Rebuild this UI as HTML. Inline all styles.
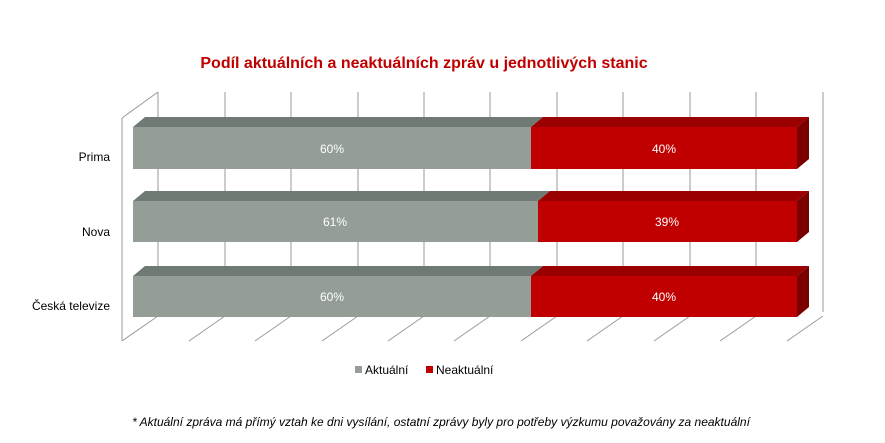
<!DOCTYPE html>
<html><head><meta charset="utf-8"><style>
body{margin:0;background:#fff;width:885px;height:438px;overflow:hidden;font-family:"Liberation Sans",sans-serif}
</style></head><body>
<svg width="885" height="438" xmlns="http://www.w3.org/2000/svg" font-family="Liberation Sans, sans-serif">
<text x="424" y="68" text-anchor="middle" font-size="16" font-weight="bold" fill="#c00000">Podíl aktuálních a neaktuálních zpráv u jednotlivých stanic</text>
<g stroke="#999" stroke-width="1" fill="none">
<line x1="158" y1="92" x2="158" y2="312"/>
<line x1="122" y1="118" x2="158" y2="92"/>
<line x1="122" y1="118" x2="122" y2="341"/>
<line x1="823" y1="92" x2="823" y2="312"/>
<line x1="225" y1="92" x2="225" y2="312"/><line x1="291" y1="92" x2="291" y2="312"/><line x1="358" y1="92" x2="358" y2="312"/><line x1="424" y1="92" x2="424" y2="312"/><line x1="490" y1="92" x2="490" y2="312"/><line x1="557" y1="92" x2="557" y2="312"/><line x1="623" y1="92" x2="623" y2="312"/><line x1="690" y1="92" x2="690" y2="312"/><line x1="756" y1="92" x2="756" y2="312"/>
<line x1="158" y1="316" x2="122" y2="341"/><line x1="225" y1="316" x2="189" y2="341"/><line x1="291" y1="316" x2="255" y2="341"/><line x1="358" y1="316" x2="322" y2="341"/><line x1="424" y1="316" x2="388" y2="341"/><line x1="490" y1="316" x2="454" y2="341"/><line x1="557" y1="316" x2="521" y2="341"/><line x1="623" y1="316" x2="587" y2="341"/><line x1="690" y1="316" x2="654" y2="341"/><line x1="756" y1="316" x2="720" y2="341"/><line x1="823" y1="316" x2="787" y2="341"/>
</g>
<g font-size="12" fill="#fff" text-anchor="middle">
<polygon points="133,127 145,117 543,117 531,127" fill="#6f7a74"/>
<rect x="133" y="127" width="398" height="42" fill="#949e97"/>
<polygon points="531,127 543,117 809,117 797,127" fill="#9a0000"/>
<rect x="531" y="127" width="266" height="42" fill="#c00000"/>
<polygon points="797,127 809,117 809,159 797,169" fill="#7a0000"/>
<text x="332" y="153" fill="#fff">60%</text><text x="664" y="153" fill="#fff">40%</text>
<polygon points="133,201 145,191 550,191 538,201" fill="#6f7a74"/>
<rect x="133" y="201" width="405" height="41" fill="#949e97"/>
<polygon points="538,201 550,191 809,191 797,201" fill="#9a0000"/>
<rect x="538" y="201" width="259" height="41" fill="#c00000"/>
<polygon points="797,201 809,191 809,232 797,242" fill="#7a0000"/>
<text x="335" y="226" fill="#fff">61%</text><text x="667" y="226" fill="#fff">39%</text>
<polygon points="133,276 145,266 543,266 531,276" fill="#6f7a74"/>
<rect x="133" y="276" width="398" height="41" fill="#949e97"/>
<polygon points="531,276 543,266 809,266 797,276" fill="#9a0000"/>
<rect x="531" y="276" width="266" height="41" fill="#c00000"/>
<polygon points="797,276 809,266 809,307 797,317" fill="#7a0000"/>
<text x="332" y="301" fill="#fff">60%</text><text x="664" y="301" fill="#fff">40%</text>
</g>
<g font-size="12" fill="#000" text-anchor="end">
<text x="110" y="161">Prima</text>
<text x="110" y="236">Nova</text>
<text x="110" y="310">Česká televize</text>
</g>
<rect x="355" y="366" width="7" height="7" fill="#949e97"/>
<text x="365" y="374" font-size="12">Aktuální</text>
<rect x="426" y="366" width="7" height="7" fill="#c00000"/>
<text x="436" y="374" font-size="12">Neaktuální</text>
<text x="441" y="426" text-anchor="middle" font-size="12" font-style="italic">* Aktuální zpráva má přímý vztah ke dni vysílání, ostatní zprávy byly pro potřeby výzkumu považovány za neaktuální</text>
</svg>
</body></html>
